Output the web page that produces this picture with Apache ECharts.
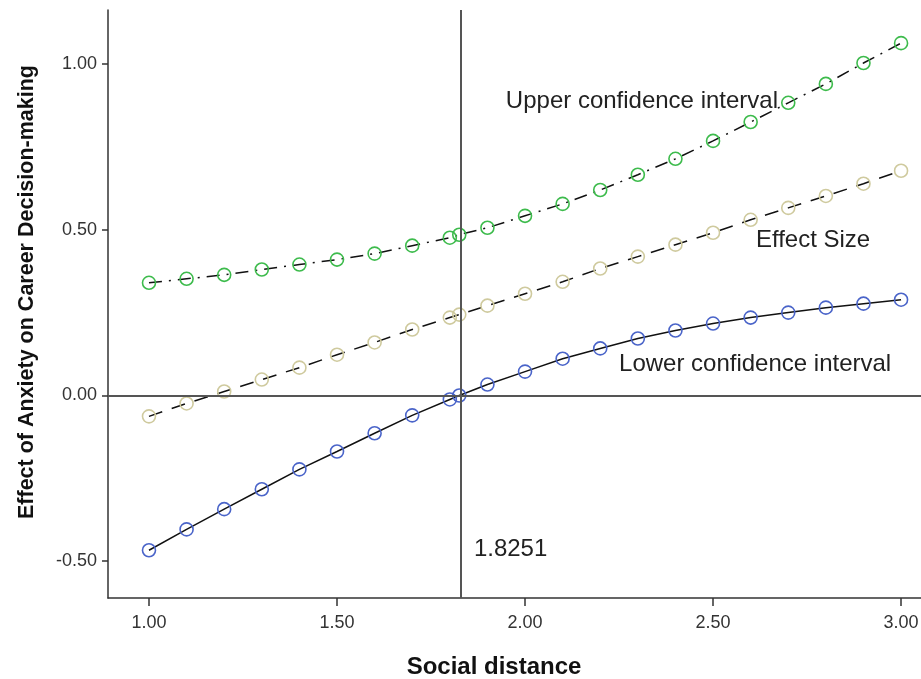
<!DOCTYPE html>
<html>
<head>
<meta charset="utf-8">
<script src="https://cdn.jsdelivr.net/npm/echarts@6/dist/echarts.min.js"></script>
<style>
  html, body { margin: 0; padding: 0; background: #fff; }
  #chart { width: 921px; height: 679px; }
</style>
</head>
<body>
<div id="chart"></div>
<script>
// social distance values (moderator), 1.8251 is the Johnson-Neyman point
var xValues = [1.00, 1.10, 1.20, 1.30, 1.40, 1.50, 1.60, 1.70, 1.80, 1.8251, 1.90,
  2.00, 2.10, 2.20, 2.30, 2.40, 2.50, 2.60, 2.70, 2.80, 2.90, 3.00];
var upperCI = [0.340, 0.352, 0.364, 0.380, 0.395, 0.410, 0.428, 0.452, 0.476, 0.485, 0.506,
  0.542, 0.578, 0.620, 0.666, 0.714, 0.768, 0.825, 0.883, 0.940, 1.003, 1.063];
var effectSize = [-0.063, -0.024, 0.012, 0.048, 0.084, 0.123, 0.160, 0.199, 0.235, 0.244, 0.271,
  0.307, 0.343, 0.383, 0.419, 0.455, 0.491, 0.530, 0.566, 0.602, 0.639, 0.678];
var lowerCI = [-0.467, -0.404, -0.343, -0.283, -0.223, -0.169, -0.114, -0.060, -0.012, 0.000, 0.033,
  0.072, 0.111, 0.142, 0.172, 0.196, 0.217, 0.235, 0.250, 0.265, 0.277, 0.289];
var xTicks = [1.00, 1.50, 2.00, 2.50, 3.00];
var yTicks = [-0.50, 0.00, 0.50, 1.00];
var jnPoint = 1.8251;

function pairs(ys) {
  return xValues.map(function (x, i) { return [x, ys[i]]; });
}

function labelPoint(text, x, y) {
  return {
    coord: [x, y],
    symbolSize: 0,
    label: {
      show: true,
      formatter: text,
      position: 'inside',
      align: 'left',
      verticalAlign: 'middle',
      color: '#222',
      fontFamily: 'Liberation Sans',
      fontSize: 24
    }
  };
}

var chart = echarts.init(document.getElementById('chart'));

var axisCommon = {
  type: 'value',
  splitLine: { show: false },
  axisLine: { show: true, onZero: false, lineStyle: { color: '#333', width: 1.5 } },
  axisTick: { show: true, lineStyle: { color: '#333', width: 1.5 } },
  axisLabel: {
    color: '#333',
    fontFamily: 'Liberation Sans',
    fontSize: 18,
    formatter: function (v) { return v.toFixed(2); }
  }
};

var option = {
  backgroundColor: '#fff',
  animation: false,
  grid: { left: 108, right: 0, top: 10, bottom: 81, outerBoundsMode: 'none', containLabel: false },
  xAxis: Object.assign({}, axisCommon, {
    min: 0.891,
    max: 3.053,
    name: 'Social distance',
    nameLocation: 'middle',
    nameGap: 57,
    nameTextStyle: {
      fontFamily: 'Liberation Sans', fontWeight: 'bold', fontSize: 24, color: '#111',
      padding: [0, 41, 0, 0]
    },
    axisTick: { show: true, length: 8, customValues: xTicks, lineStyle: { color: '#333', width: 1.5 } },
    axisLabel: Object.assign({}, axisCommon.axisLabel, { customValues: xTicks, margin: 16 })
  }),
  yAxis: Object.assign({}, axisCommon, {
    min: -0.611,
    max: 1.163,
    name: 'Effect of Anxiety on Career Decision-making',
    nameLocation: 'middle',
    nameGap: 70,
    nameTextStyle: {
      fontFamily: 'Liberation Sans', fontWeight: 'bold', fontSize: 21.5, color: '#111',
      padding: [0, 0, 0, 24]
    },
    axisTick: { show: true, length: 6, customValues: yTicks, lineStyle: { color: '#333', width: 1.5 } },
    axisLabel: Object.assign({}, axisCommon.axisLabel, { customValues: yTicks, margin: 11 })
  }),
  series: [
    {
      name: 'Lower confidence interval',
      type: 'line',
      data: pairs(lowerCI),
      symbol: 'circle',
      symbolSize: 13,
      itemStyle: { color: 'rgba(0,0,0,0)', borderColor: '#4a64c9', borderWidth: 1.6 },
      lineStyle: { color: '#111', width: 1.5, type: 'solid' },
      markLine: {
        silent: true,
        symbol: 'none',
        label: { show: false },
        lineStyle: { color: '#555', width: 2, type: 'solid' },
        data: [{ yAxis: 0 }, { xAxis: jnPoint }]
      },
      markPoint: {
        silent: true,
        data: [
          labelPoint('Lower confidence interval', 2.25, 0.093),
          labelPoint('1.8251', 1.864, -0.464)
        ]
      },
      z: 3
    },
    {
      name: 'Effect Size',
      type: 'line',
      data: pairs(effectSize),
      symbol: 'circle',
      symbolSize: 13,
      itemStyle: { color: 'rgba(0,0,0,0)', borderColor: '#cfca9e', borderWidth: 1.6 },
      lineStyle: { color: '#111', width: 1.5, type: [14, 10] },
      markPoint: {
        silent: true,
        data: [labelPoint('Effect Size', 2.614, 0.467)]
      },
      z: 3
    },
    {
      name: 'Upper confidence interval',
      type: 'line',
      data: pairs(upperCI),
      symbol: 'circle',
      symbolSize: 13,
      itemStyle: { color: 'rgba(0,0,0,0)', borderColor: '#3dbb4c', borderWidth: 1.6 },
      lineStyle: { color: '#111', width: 1.5, type: [13, 7, 2, 7] },
      markPoint: {
        silent: true,
        data: [labelPoint('Upper confidence interval', 1.949, 0.886)]
      },
      z: 3
    }
  ]
};

chart.setOption(option);
</script>
</body>
</html>
